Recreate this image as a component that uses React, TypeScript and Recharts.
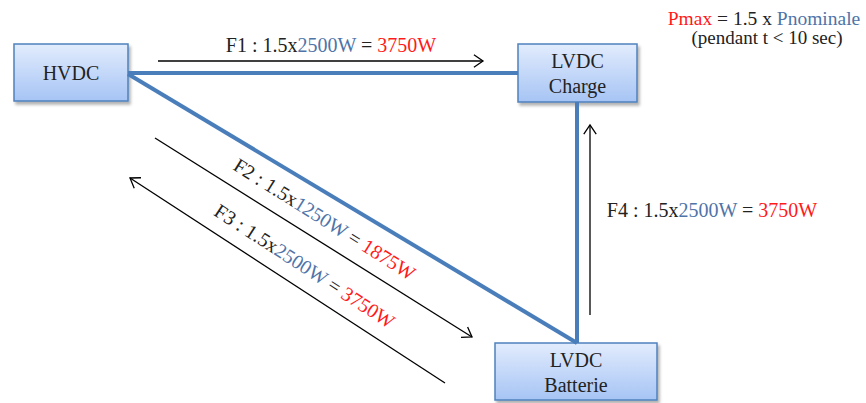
import React from 'react';
import { ComposedChart, XAxis, YAxis, ReferenceArea, ReferenceLine, ReferenceDot } from 'recharts';

const W = 866;
const H = 403;

// Nodes (diagram coordinates in data units)
const nodeLabels: string[][] = [['HVDC'], ['LVDC', 'Charge'], ['LVDC', 'Batterie']];
const nodeX1 = [14, 518, 495];
const nodeX2 = [128, 637, 657];
const nodeY1 = [44, 44, 343];
const nodeY2 = [101, 102, 400];

// Links between nodes
const linkFrom = [[128, 73], [128, 74], [577, 102]];
const linkTo = [[518, 73], [577, 343], [577, 343]];

// Power flows
const flowNames = ['F1', 'F2', 'F3', 'F4'];
const flowFactor = [1.5, 1.5, 1.5, 1.5];
const flowNominal = [2500, 1250, 2500, 2500];
const flowMax = [3750, 1875, 3750, 3750];
const flowStart = [[158, 61], [155, 138], [445, 383], [590, 315]];
const flowEnd = [[483, 61], [472, 337], [130, 178], [590, 125]];
const flowLabelAt = [[331, 52], [321, 225], [301, 272], [712, 217]];
const flowLabelRotated = [false, true, true, false];

const noteLines = ['Pmax = 1.5 x Pnominale', '(pendant t < 10 sec)'];
const noteAt = [[764, 25], [767, 44]];

const FONT = "'Liberation Serif', 'DejaVu Serif', serif";
const BLACK = '#222';
const BLUE = '#4f74a8';
const RED = '#ff1a1a';
const LINK = '#4a7ebb';

const boxShape = (lines: string[]) => (p: any) => {
  const { x, y, width, height } = p;
  const cx = x + width / 2;
  const cy = y + height / 2;
  return (
    <g>
      <rect x={x} y={y} width={width} height={height} fill="url(#boxGrad)" stroke="#4f81bd" strokeWidth={1.5} filter="url(#boxShadow)" />
      {lines.length === 1 ? (
        <text x={cx} y={cy + 7} textAnchor="middle" fontFamily={FONT} fontSize={20} fill={BLACK}>{lines[0]}</text>
      ) : (
        <>
          <text x={cx} y={cy - 5} textAnchor="middle" fontFamily={FONT} fontSize={20} fill={BLACK}>{lines[0]}</text>
          <text x={cx} y={cy + 20} textAnchor="middle" fontFamily={FONT} fontSize={20} fill={BLACK}>{lines[1]}</text>
        </>
      )}
    </g>
  );
};

const linkShape = (p: any) => (
  <line x1={p.x1} y1={p.y1} x2={p.x2} y2={p.y2} stroke={LINK} strokeWidth={4} strokeLinecap="butt" />
);

const arrowShape = (p: any) => {
  const { x1, y1, x2, y2 } = p;
  const a = Math.atan2(y2 - y1, x2 - x1);
  const L = 11;
  const s = 0.6;
  const ax = x2 - L * Math.cos(a - s);
  const ay = y2 - L * Math.sin(a - s);
  const bx = x2 - L * Math.cos(a + s);
  const by = y2 - L * Math.sin(a + s);
  return (
    <g>
      <line x1={x1} y1={y1} x2={x2} y2={y2} stroke="#000" strokeWidth={1.3} />
      <polyline points={`${ax},${ay} ${x2},${y2} ${bx},${by}`} fill="none" stroke="#000" strokeWidth={1.3} />
    </g>
  );
};

const flowLabelShape = (i: number) => (p: any) => {
  const { cx, cy } = p;
  let angle = 0;
  if (flowLabelRotated[i]) {
    const dx = flowEnd[i][0] - flowStart[i][0];
    const dy = flowEnd[i][1] - flowStart[i][1];
    angle = (Math.atan2(dy, dx) * 180) / Math.PI;
    if (angle > 90) angle -= 180;
    if (angle < -90) angle += 180;
  }
  return (
    <text
      x={cx}
      y={cy}
      textAnchor="middle"
      fontFamily={FONT}
      fontSize={20}
      style={{ whiteSpace: 'pre' }}
      transform={angle ? `rotate(${angle} ${cx} ${cy})` : undefined}
    >
      <tspan fill={BLACK}>{`${flowNames[i]} : ${flowFactor[i]}x`}</tspan>
      <tspan fill={BLUE}>{`${flowNominal[i]}W`}</tspan>
      <tspan fill={BLACK}>{' = '}</tspan>
      <tspan fill={RED}>{`${flowMax[i]}W`}</tspan>
    </text>
  );
};

const noteShape = (i: number) => (p: any) => {
  const { cx, cy } = p;
  if (i === 0) {
    const parts = noteLines[0].split(' ');
    return (
      <text x={cx} y={cy} textAnchor="middle" fontFamily={FONT} fontSize={19.5} style={{ whiteSpace: 'pre' }}>
        <tspan fill={RED}>{parts[0]}</tspan>
        <tspan fill={BLACK}>{` ${parts.slice(1, parts.length - 1).join(' ')} `}</tspan>
        <tspan fill={BLUE}>{parts[parts.length - 1]}</tspan>
      </text>
    );
  }
  return (
    <text x={cx} y={cy} textAnchor="middle" fontFamily={FONT} fontSize={19} fill={BLACK}>{noteLines[i]}</text>
  );
};

export default function App() {
  return (
    <div style={{ position: 'absolute', left: 0, top: 0, width: W, height: H, background: '#fff' }}>
      <ComposedChart width={W} height={H} margin={{ top: 0, right: 0, bottom: 0, left: 0 }} data={[{ x: 0, y: 0 }]}>
        <defs>
          <linearGradient id="boxGrad" x1="0" y1="0" x2="0" y2="1">
            <stop offset="0%" stopColor="#e2ecfd" />
            <stop offset="100%" stopColor="#a6c4f4" />
          </linearGradient>
          <filter id="boxShadow" x="-10%" y="-10%" width="130%" height="140%">
            <feDropShadow dx="2" dy="3" stdDeviation="1.5" floodColor="#000" floodOpacity="0.3" />
          </filter>
        </defs>
        <XAxis type="number" dataKey="x" domain={[0, W]} hide allowDataOverflow />
        <YAxis type="number" dataKey="y" domain={[0, H]} reversed hide allowDataOverflow />
        {linkFrom.map((f, i) => (
          <ReferenceLine
            key={`link${i}`}
            segment={[{ x: f[0], y: f[1] }, { x: linkTo[i][0], y: linkTo[i][1] }]}
            ifOverflow="visible"
            shape={linkShape}
          />
        ))}
        {nodeLabels.map((lines, i) => (
          <ReferenceArea
            key={`node${i}`}
            x1={nodeX1[i]}
            x2={nodeX2[i]}
            y1={nodeY1[i]}
            y2={nodeY2[i]}
            ifOverflow="visible"
            shape={boxShape(lines)}
          />
        ))}
        {flowNames.map((n, i) => (
          <ReferenceLine
            key={`flow${n}`}
            segment={[{ x: flowStart[i][0], y: flowStart[i][1] }, { x: flowEnd[i][0], y: flowEnd[i][1] }]}
            ifOverflow="visible"
            shape={arrowShape}
          />
        ))}
        {flowNames.map((n, i) => (
          <ReferenceDot
            key={`lab${n}`}
            x={flowLabelAt[i][0]}
            y={flowLabelAt[i][1]}
            r={1}
            ifOverflow="visible"
            shape={flowLabelShape(i)}
          />
        ))}
        {noteLines.map((t, i) => (
          <ReferenceDot
            key={`note${i}`}
            x={noteAt[i][0]}
            y={noteAt[i][1]}
            r={1}
            ifOverflow="visible"
            shape={noteShape(i)}
          />
        ))}
      </ComposedChart>
    </div>
  );
}
